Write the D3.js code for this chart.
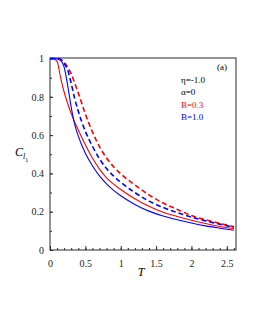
<!DOCTYPE html>
<html>
<head>
<meta charset="utf-8">
<script src="https://cdn.jsdelivr.net/npm/d3@7"></script>
<style>
  body { margin: 0; background: #fff; }
  svg text { font-family: "Liberation Serif", "DejaVu Serif", serif; }
</style>
</head>
<body>
<div id="chart"></div>
<script>
// temperature grid
const T = [0, 0.05, 0.1, 0.15, 0.2, 0.25, 0.3, 0.35, 0.4, 0.5, 0.6, 0.7, 0.8, 0.9, 1.0, 1.2, 1.4, 1.6, 1.8, 2.0, 2.2, 2.4, 2.6]

// solid lines
const redSolid  = [1, 0.998, 0.985, 0.90, 0.825, 0.765, 0.712, 0.667, 0.627, 0.55, 0.48, 0.422, 0.377, 0.344, 0.316, 0.268, 0.228, 0.197, 0.175, 0.155, 0.138, 0.123, 0.111]
const blueSolid = [1, 1, 0.998, 0.99, 0.955, 0.86, 0.745, 0.655, 0.595, 0.505, 0.44, 0.387, 0.345, 0.311, 0.283, 0.238, 0.203, 0.178, 0.158, 0.141, 0.126, 0.114, 0.103]
// dashed lines
const redDash   = [1, 1, 1, 0.995, 0.98, 0.955, 0.92, 0.87, 0.82, 0.71, 0.617, 0.54, 0.48, 0.435, 0.398, 0.34, 0.288, 0.245, 0.212, 0.18, 0.158, 0.139, 0.122]
const blueDash  = [1, 1, 1, 0.995, 0.975, 0.94, 0.87, 0.79, 0.725, 0.62, 0.542, 0.476, 0.425, 0.386, 0.354, 0.30, 0.255, 0.222, 0.195, 0.172, 0.152, 0.135, 0.118]

const xTicks = [0, 0.5, 1, 1.5, 2, 2.5]
const yTicks = [0, 0.2, 0.4, 0.6, 0.8, 1]
const legendLines = ["η=-1.0", "α=0", "B=0.3", "B=1.0"]
const legendColors = ["#000", "#000", "#ff0000", "#0000ff"]

const width = 255, height = 330
const svg = d3.select("#chart").append("svg")
    .attr("width", width)
    .attr("height", height)

const x = d3.scaleLinear().domain([0, 2.63]).range([50, 236])
const y = d3.scaleLinear().domain([0, 1]).range([250, 58.5])

// frame
svg.append("rect")
    .attr("x", 50).attr("y", 58)
    .attr("width", 186).attr("height", 192)
    .attr("fill", "none")
    .attr("stroke", "#2a2a2a")
    .attr("stroke-width", 1)

// minor ticks
const xMinor = d3.range(0, 2.61, 0.1)
const yMinor = d3.range(0, 1.01, 0.1)

const xAxis = svg.append("g").attr("transform", "translate(0,250)")
xAxis.call(d3.axisBottom(x).tickValues(xMinor).tickSize(-2).tickFormat(""))
xAxis.append("g").call(d3.axisBottom(x).tickValues(xTicks).tickSize(-4).tickPadding(10)
    .tickFormat(d3.format("")))
xAxis.selectAll(".domain").remove()
xAxis.selectAll("line").attr("stroke", "#2a2a2a")
xAxis.selectAll("text").attr("font-size", 10).attr("fill", "#222")

const yAxis = svg.append("g").attr("transform", "translate(50,0)")
yAxis.call(d3.axisLeft(y).tickValues(yMinor).tickSize(-2).tickFormat(""))
yAxis.append("g").call(d3.axisLeft(y).tickValues(yTicks).tickSize(-3).tickPadding(6)
    .tickFormat(d3.format("")))
yAxis.selectAll(".domain").remove()
yAxis.selectAll("line").attr("stroke", "#2a2a2a")
yAxis.selectAll("text").attr("font-size", 10).attr("fill", "#222")

// curves
const line = d3.line()
    .x((d, i) => x(T[i]))
    .y(d => y(d))
    .curve(d3.curveMonotoneX)

const series = [
    {vals: redSolid, color: "#ff0000", dash: null},
    {vals: blueSolid, color: "#0000ff", dash: null},
    {vals: redDash, color: "#ff0000", dash: "5,3"},
    {vals: blueDash, color: "#0000ff", dash: "5,3"}
]
series.forEach(s => {
    svg.append("path")
        .datum(s.vals)
        .attr("d", line)
        .attr("fill", "none")
        .attr("stroke", s.color)
        .attr("stroke-width", s.dash ? 1.6 : 1.1)
        .attr("stroke-dasharray", s.dash)
})

// axis titles
svg.append("text")
    .attr("x", 141).attr("y", 276)
    .attr("font-size", 12).attr("font-style", "italic")
    .attr("text-anchor", "middle")
    .text("T")

const yt = svg.append("text")
    .attr("x", 15).attr("y", 156)
    .attr("font-size", 12).attr("font-style", "italic")
yt.append("tspan").text("C")
yt.append("tspan").attr("font-size", 8).attr("dy", 3).text("l")
yt.append("tspan").attr("font-size", 6).attr("dy", 3).attr("font-style", "normal").text("1")

// legend
svg.append("text")
    .attr("x", 217).attr("y", 70)
    .attr("font-size", 9)
    .text("(a)")

legendLines.forEach((t, i) => {
    svg.append("text")
        .attr("x", 181).attr("y", 83 + i * 12.3)
        .attr("font-size", 9)
        .attr("fill", legendColors[i])
        .text(t)
})
</script>
</body>
</html>
